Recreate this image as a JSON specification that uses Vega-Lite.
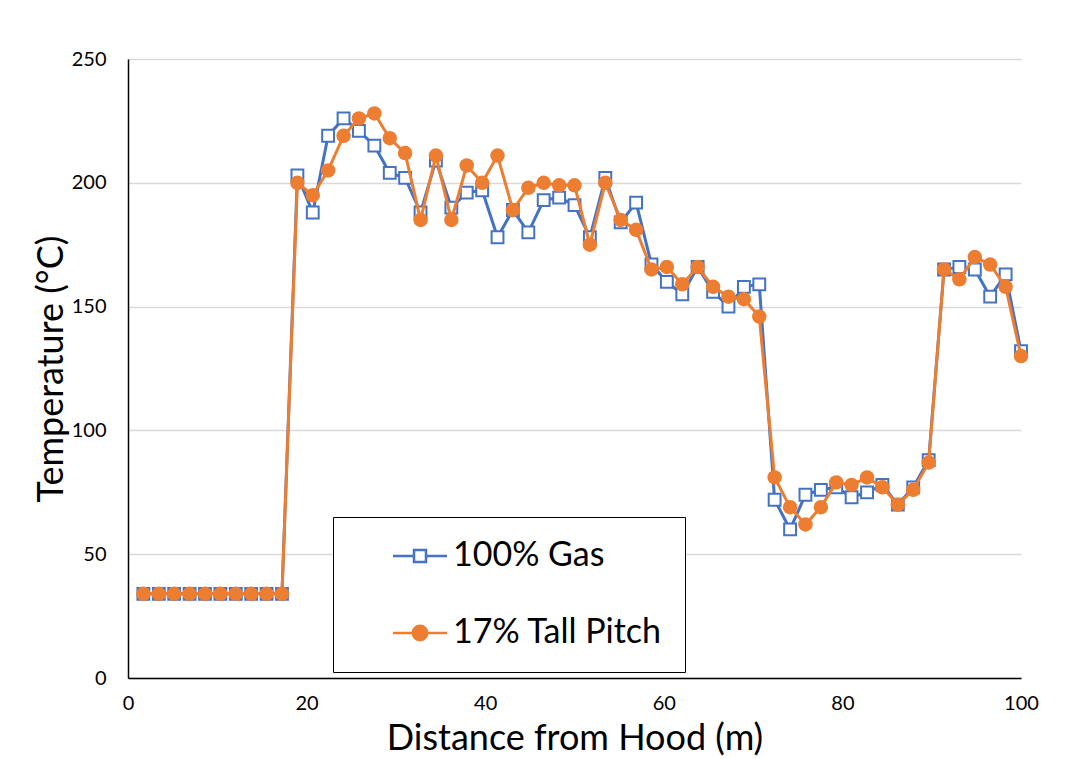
{
  "$schema": "https://vega.github.io/schema/vega-lite/v6.json",
  "width": 893,
  "height": 619,
  "autosize": {"type": "none"},
  "padding": {"left": 128, "top": 59, "right": 68, "bottom": 81},
  "background": "white",
  "config": {"font": "Lato", "view": {"stroke": null}},
  "data": {
    "values": [
      {"d": 1.72, "series": "100% Gas", "temp": 34},
      {"d": 3.45, "series": "100% Gas", "temp": 34},
      {"d": 5.17, "series": "100% Gas", "temp": 34},
      {"d": 6.9, "series": "100% Gas", "temp": 34},
      {"d": 8.62, "series": "100% Gas", "temp": 34},
      {"d": 10.34, "series": "100% Gas", "temp": 34},
      {"d": 12.07, "series": "100% Gas", "temp": 34},
      {"d": 13.79, "series": "100% Gas", "temp": 34},
      {"d": 15.52, "series": "100% Gas", "temp": 34},
      {"d": 17.24, "series": "100% Gas", "temp": 34},
      {"d": 18.97, "series": "100% Gas", "temp": 203},
      {"d": 20.69, "series": "100% Gas", "temp": 188},
      {"d": 22.41, "series": "100% Gas", "temp": 219},
      {"d": 24.14, "series": "100% Gas", "temp": 226},
      {"d": 25.86, "series": "100% Gas", "temp": 221},
      {"d": 27.59, "series": "100% Gas", "temp": 215},
      {"d": 29.31, "series": "100% Gas", "temp": 204},
      {"d": 31.03, "series": "100% Gas", "temp": 202},
      {"d": 32.76, "series": "100% Gas", "temp": 188},
      {"d": 34.48, "series": "100% Gas", "temp": 209},
      {"d": 36.21, "series": "100% Gas", "temp": 190},
      {"d": 37.93, "series": "100% Gas", "temp": 196},
      {"d": 39.66, "series": "100% Gas", "temp": 197},
      {"d": 41.38, "series": "100% Gas", "temp": 178},
      {"d": 43.1, "series": "100% Gas", "temp": 189},
      {"d": 44.83, "series": "100% Gas", "temp": 180},
      {"d": 46.55, "series": "100% Gas", "temp": 193},
      {"d": 48.28, "series": "100% Gas", "temp": 194},
      {"d": 50.0, "series": "100% Gas", "temp": 191},
      {"d": 51.72, "series": "100% Gas", "temp": 178},
      {"d": 53.45, "series": "100% Gas", "temp": 202},
      {"d": 55.17, "series": "100% Gas", "temp": 184},
      {"d": 56.9, "series": "100% Gas", "temp": 192},
      {"d": 58.62, "series": "100% Gas", "temp": 167},
      {"d": 60.34, "series": "100% Gas", "temp": 160},
      {"d": 62.07, "series": "100% Gas", "temp": 155},
      {"d": 63.79, "series": "100% Gas", "temp": 166},
      {"d": 65.52, "series": "100% Gas", "temp": 156},
      {"d": 67.24, "series": "100% Gas", "temp": 150},
      {"d": 68.97, "series": "100% Gas", "temp": 158},
      {"d": 70.69, "series": "100% Gas", "temp": 159},
      {"d": 72.41, "series": "100% Gas", "temp": 72},
      {"d": 74.14, "series": "100% Gas", "temp": 60},
      {"d": 75.86, "series": "100% Gas", "temp": 74},
      {"d": 77.59, "series": "100% Gas", "temp": 76},
      {"d": 79.31, "series": "100% Gas", "temp": 77},
      {"d": 81.03, "series": "100% Gas", "temp": 73},
      {"d": 82.76, "series": "100% Gas", "temp": 75},
      {"d": 84.48, "series": "100% Gas", "temp": 78},
      {"d": 86.21, "series": "100% Gas", "temp": 70},
      {"d": 87.93, "series": "100% Gas", "temp": 77},
      {"d": 89.66, "series": "100% Gas", "temp": 88},
      {"d": 91.38, "series": "100% Gas", "temp": 165},
      {"d": 93.1, "series": "100% Gas", "temp": 166},
      {"d": 94.83, "series": "100% Gas", "temp": 165},
      {"d": 96.55, "series": "100% Gas", "temp": 154},
      {"d": 98.28, "series": "100% Gas", "temp": 163},
      {"d": 100.0, "series": "100% Gas", "temp": 132},
      {"d": 1.72, "series": "17% Tall Pitch", "temp": 34},
      {"d": 3.45, "series": "17% Tall Pitch", "temp": 34},
      {"d": 5.17, "series": "17% Tall Pitch", "temp": 34},
      {"d": 6.9, "series": "17% Tall Pitch", "temp": 34},
      {"d": 8.62, "series": "17% Tall Pitch", "temp": 34},
      {"d": 10.34, "series": "17% Tall Pitch", "temp": 34},
      {"d": 12.07, "series": "17% Tall Pitch", "temp": 34},
      {"d": 13.79, "series": "17% Tall Pitch", "temp": 34},
      {"d": 15.52, "series": "17% Tall Pitch", "temp": 34},
      {"d": 17.24, "series": "17% Tall Pitch", "temp": 34},
      {"d": 18.97, "series": "17% Tall Pitch", "temp": 200},
      {"d": 20.69, "series": "17% Tall Pitch", "temp": 195},
      {"d": 22.41, "series": "17% Tall Pitch", "temp": 205},
      {"d": 24.14, "series": "17% Tall Pitch", "temp": 219},
      {"d": 25.86, "series": "17% Tall Pitch", "temp": 226},
      {"d": 27.59, "series": "17% Tall Pitch", "temp": 228},
      {"d": 29.31, "series": "17% Tall Pitch", "temp": 218},
      {"d": 31.03, "series": "17% Tall Pitch", "temp": 212},
      {"d": 32.76, "series": "17% Tall Pitch", "temp": 185},
      {"d": 34.48, "series": "17% Tall Pitch", "temp": 211},
      {"d": 36.21, "series": "17% Tall Pitch", "temp": 185},
      {"d": 37.93, "series": "17% Tall Pitch", "temp": 207},
      {"d": 39.66, "series": "17% Tall Pitch", "temp": 200},
      {"d": 41.38, "series": "17% Tall Pitch", "temp": 211},
      {"d": 43.1, "series": "17% Tall Pitch", "temp": 189},
      {"d": 44.83, "series": "17% Tall Pitch", "temp": 198},
      {"d": 46.55, "series": "17% Tall Pitch", "temp": 200},
      {"d": 48.28, "series": "17% Tall Pitch", "temp": 199},
      {"d": 50.0, "series": "17% Tall Pitch", "temp": 199},
      {"d": 51.72, "series": "17% Tall Pitch", "temp": 175},
      {"d": 53.45, "series": "17% Tall Pitch", "temp": 200},
      {"d": 55.17, "series": "17% Tall Pitch", "temp": 185},
      {"d": 56.9, "series": "17% Tall Pitch", "temp": 181},
      {"d": 58.62, "series": "17% Tall Pitch", "temp": 165},
      {"d": 60.34, "series": "17% Tall Pitch", "temp": 166},
      {"d": 62.07, "series": "17% Tall Pitch", "temp": 159},
      {"d": 63.79, "series": "17% Tall Pitch", "temp": 166},
      {"d": 65.52, "series": "17% Tall Pitch", "temp": 158},
      {"d": 67.24, "series": "17% Tall Pitch", "temp": 154},
      {"d": 68.97, "series": "17% Tall Pitch", "temp": 153},
      {"d": 70.69, "series": "17% Tall Pitch", "temp": 146},
      {"d": 72.41, "series": "17% Tall Pitch", "temp": 81},
      {"d": 74.14, "series": "17% Tall Pitch", "temp": 69},
      {"d": 75.86, "series": "17% Tall Pitch", "temp": 62},
      {"d": 77.59, "series": "17% Tall Pitch", "temp": 69},
      {"d": 79.31, "series": "17% Tall Pitch", "temp": 79},
      {"d": 81.03, "series": "17% Tall Pitch", "temp": 78},
      {"d": 82.76, "series": "17% Tall Pitch", "temp": 81},
      {"d": 84.48, "series": "17% Tall Pitch", "temp": 77},
      {"d": 86.21, "series": "17% Tall Pitch", "temp": 70},
      {"d": 87.93, "series": "17% Tall Pitch", "temp": 76},
      {"d": 89.66, "series": "17% Tall Pitch", "temp": 87},
      {"d": 91.38, "series": "17% Tall Pitch", "temp": 165},
      {"d": 93.1, "series": "17% Tall Pitch", "temp": 161},
      {"d": 94.83, "series": "17% Tall Pitch", "temp": 170},
      {"d": 96.55, "series": "17% Tall Pitch", "temp": 167},
      {"d": 98.28, "series": "17% Tall Pitch", "temp": 158},
      {"d": 100.0, "series": "17% Tall Pitch", "temp": 130}
    ]
  },
  "encoding": {
    "x": {
      "field": "d",
      "type": "quantitative",
      "scale": {"domain": [0, 100], "nice": false, "zero": false},
      "axis": {
        "values": [0, 20, 40, 60, 80, 100],
        "grid": false,
        "ticks": false,
        "labelFlush": false,
        "domainColor": "black",
        "domainWidth": 1.5,
        "labelFontSize": 20,
        "labelColor": "black",
        "labelPadding": 15,
        "title": "Distance from Hood (m)",
        "titleFontSize": 36,
        "titleFontWeight": "normal",
        "titleColor": "black",
        "titlePadding": 8
      }
    },
    "y": {
      "field": "temp",
      "type": "quantitative",
      "scale": {"domain": [0, 250], "nice": false},
      "axis": {
        "values": [0, 50, 100, 150, 200, 250],
        "grid": true,
        "gridColor": "#d9d9d9",
        "gridWidth": 1.3,
        "ticks": false,
        "labelFlush": false,
        "domainColor": "black",
        "domainWidth": 1.5,
        "labelFontSize": 20,
        "labelColor": "black",
        "labelPadding": 22,
        "title": "Temperature (°C)",
        "titleFontSize": 36,
        "titleFontWeight": "normal",
        "titleColor": "black",
        "titlePadding": 1
      }
    }
  },
  "layer": [
    {
      "transform": [{"filter": "datum.series === '100% Gas'"}],
      "mark": {"type": "line", "strokeWidth": 3},
      "encoding": {
        "color": {
          "field": "series",
          "type": "nominal",
          "scale": {"domain": ["100% Gas", "17% Tall Pitch"], "range": ["#4472C4", "#ED7D31"]},
          "legend": {
            "orient": "none",
            "legendX": 205,
            "legendY": 458,
            "title": null,
            "padding": 22,
            "strokeColor": "black",
            "fillColor": "white",
            "labelFontSize": 34,
            "labelColor": "black",
            "labelFont": "Lato",
            "labelLimit": 500,
            "rowPadding": 43,
            "symbolSize": 144,
            "symbolOffset": 48,
            "labelOffset": 16,
            "symbolStrokeWidth": 2.5,
            "encode": {
              "symbols": {
                "update": {
                  "shape": {"signal": "datum.value === '100% Gas' ? 'M-4.5,0H-1M1,0H4.5M-1,-1H1V1H-1Z' : 'M-4.5,0H4.5M1.2,0A1.2,1.2,0,1,1,-1.2,0A1.2,1.2,0,1,1,1.2,0Z'"},
                  "fill": {"signal": "datum.value === '100% Gas' ? 'white' : '#ED7D31'"},
                  "stroke": {"signal": "datum.value === '100% Gas' ? '#4472C4' : '#ED7D31'"},
                  "strokeWidth": {"value": 2.5},
                  "size": {"value": 144},
                  "opacity": {"value": 1}
                }
              }
            }
          }
        }
      }
    },
    {
      "transform": [{"filter": "datum.series === '100% Gas'"}],
      "mark": {"type": "point", "shape": "square", "filled": true, "fill": "white", "stroke": "#4472C4", "strokeWidth": 2, "size": 140, "opacity": 1}
    },
    {
      "transform": [{"filter": "datum.series === '17% Tall Pitch'"}],
      "mark": {"type": "line", "strokeWidth": 3},
      "encoding": {
        "color": {"field": "series", "type": "nominal"}
      }
    },
    {
      "transform": [{"filter": "datum.series === '17% Tall Pitch'"}],
      "mark": {"type": "point", "shape": "circle", "filled": true, "fill": "#ED7D31", "size": 210, "opacity": 1}
    }
  ]
}
